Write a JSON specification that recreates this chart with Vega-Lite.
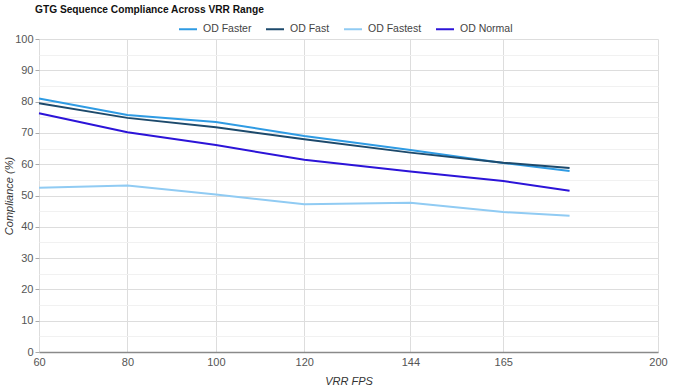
{
  "$schema": "https://vega.github.io/schema/vega-lite/v6.json",
  "autosize": {"type": "none"},
  "width": 619,
  "height": 313,
  "padding": {"left": 39, "top": 39, "right": 17, "bottom": 38},
  "background": "#ffffff",
  "title": {
    "text": "GTG Sequence Compliance Across VRR Range",
    "anchor": "start",
    "frame": "group",
    "font": "Liberation Sans",
    "fontSize": 10.2,
    "fontWeight": "bold",
    "color": "#111111",
    "offset": 4,
    "dx": -4
  },
  "config": {
    "view": {"stroke": null},
    "font": "Liberation Sans"
  },
  "data": {
    "values": [
      {"fps": 60, "series": "OD Faster", "value": 81.0},
      {"fps": 80, "series": "OD Faster", "value": 75.7},
      {"fps": 100, "series": "OD Faster", "value": 73.5},
      {"fps": 120, "series": "OD Faster", "value": 69.0},
      {"fps": 144, "series": "OD Faster", "value": 64.5},
      {"fps": 165, "series": "OD Faster", "value": 60.4},
      {"fps": 180, "series": "OD Faster", "value": 57.8},
      {"fps": 60, "series": "OD Fast", "value": 79.5},
      {"fps": 80, "series": "OD Fast", "value": 74.8},
      {"fps": 100, "series": "OD Fast", "value": 71.8},
      {"fps": 120, "series": "OD Fast", "value": 68.0},
      {"fps": 144, "series": "OD Fast", "value": 63.7},
      {"fps": 165, "series": "OD Fast", "value": 60.5},
      {"fps": 180, "series": "OD Fast", "value": 58.8},
      {"fps": 60, "series": "OD Fastest", "value": 52.5},
      {"fps": 80, "series": "OD Fastest", "value": 53.2},
      {"fps": 100, "series": "OD Fastest", "value": 50.3},
      {"fps": 120, "series": "OD Fastest", "value": 47.2},
      {"fps": 144, "series": "OD Fastest", "value": 47.7},
      {"fps": 165, "series": "OD Fastest", "value": 44.7},
      {"fps": 180, "series": "OD Fastest", "value": 43.5},
      {"fps": 60, "series": "OD Normal", "value": 76.3},
      {"fps": 80, "series": "OD Normal", "value": 70.2},
      {"fps": 100, "series": "OD Normal", "value": 66.1},
      {"fps": 120, "series": "OD Normal", "value": 61.4},
      {"fps": 144, "series": "OD Normal", "value": 57.7},
      {"fps": 165, "series": "OD Normal", "value": 54.6},
      {"fps": 180, "series": "OD Normal", "value": 51.5}
    ]
  },
  "mark": {"type": "line", "strokeWidth": 2, "interpolate": "linear"},
  "encoding": {
    "x": {
      "field": "fps",
      "type": "quantitative",
      "scale": {"domain": [60, 200], "nice": false, "zero": false},
      "axis": {
        "values": [60, 80, 100, 120, 144, 165, 200],
        "title": "VRR FPS",
        "titleFont": "Liberation Sans",
        "titleFontSize": 11,
        "titleFontStyle": "italic",
        "titleFontWeight": "normal",
        "titleColor": "#333333",
        "titlePadding": 8,
        "labelFont": "Liberation Sans",
        "labelFontSize": 11,
        "labelColor": "#555555",
        "labelPadding": 4,
        "labelFlush": false,
        "ticks": false,
        "domain": true,
        "domainColor": "#8a8a8a",
        "domainWidth": 1.5,
        "grid": true,
        "gridColor": "#dddddd",
        "gridWidth": 1
      }
    },
    "y": {
      "field": "value",
      "type": "quantitative",
      "scale": {"domain": [0, 100], "nice": false},
      "axis": {
        "values": [0, 5, 10, 15, 20, 25, 30, 35, 40, 45, 50, 55, 60, 65, 70, 75, 80, 85, 90, 95, 100],
        "labelExpr": "datum.value % 10 === 0 ? datum.label : ''",
        "title": "Compliance (%)",
        "titleFont": "Liberation Sans",
        "titleFontSize": 11,
        "titleFontStyle": "italic",
        "titleFontWeight": "normal",
        "titleColor": "#333333",
        "titlePadding": 0,
        "labelFont": "Liberation Sans",
        "labelFontSize": 11,
        "labelColor": "#555555",
        "labelPadding": 2,
        "tickSize": 4,
        "tickColor": "#aaaaaa",
        "tickOpacity": {"condition": {"test": "datum.value % 10 === 0", "value": 1}, "value": 0},
        "domain": false,
        "grid": true,
        "gridColor": {"condition": {"test": "datum.value % 10 === 0", "value": "#dddddd"}, "value": "#f1f1f1"},
        "gridWidth": 1
      }
    },
    "color": {
      "field": "series",
      "type": "nominal",
      "scale": {
        "domain": ["OD Faster", "OD Fast", "OD Fastest", "OD Normal"],
        "range": ["#2f9be3", "#1d4a6c", "#90cbf3", "#2c14d8"]
      },
      "legend": {
        "title": null,
        "orient": "none",
        "direction": "horizontal",
        "legendX": 139,
        "legendY": -20,
        "symbolType": "stroke",
        "symbolSize": 324,
        "symbolStrokeWidth": 2,
        "labelFont": "Liberation Sans",
        "labelFontSize": 10.5,
        "labelColor": "#444444",
        "labelOffset": 5,
        "columnPadding": 10
      }
    }
  }
}
